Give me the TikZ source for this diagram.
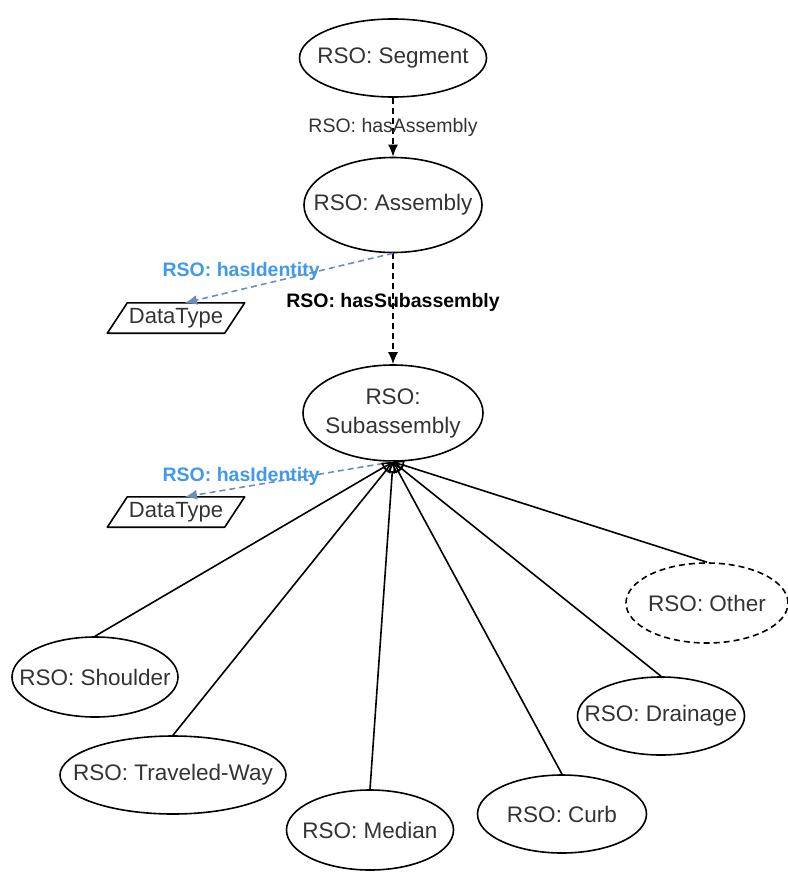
\documentclass[tikz,border=0pt]{standalone}
\usepackage{fontspec}
\setmainfont{Liberation Sans}
\usetikzlibrary{positioning,shapes.geometric,arrows.meta}
\definecolor{idblue}{RGB}{66,153,235}
\definecolor{idline}{RGB}{108,142,191}
\definecolor{nodetext}{RGB}{51,51,51}
\tikzset{>={Latex[length=12pt,width=10pt]}}
\tikzset{
  rso/.style={draw, ellipse, line width=1.6pt, inner sep=0pt, minimum height=78pt, text=nodetext, font=\fontsize{22.5}{29}\selectfont},
  dtype/.style={rectangle, inner sep=0pt, minimum width=117pt, minimum height=30pt, text=nodetext, font=\fontsize{22}{26}\selectfont},
  dtline/.style={draw, line width=1.6pt, line join=round},
  rel/.style={line width=1.6pt, dash pattern=on 6pt off 4pt, ->},
  idrel/.style={rel, draw=idline, >={Latex[length=12pt,width=10pt,fill=idline]}},
  lbl/.style={text=nodetext, font=\fontsize{19.5}{22}\selectfont},
  idlbl/.style={text=idblue, font=\fontsize{19.5}{22}\selectfont\bfseries},
  gen/.style={line width=1.6pt, -{Triangle[open,length=11pt,width=10pt]}}
}
\newcommand{\ntext}[1]{\makebox[0pt]{#1}}

\begin{document}
\begin{tikzpicture}[x=1pt, y=-1pt]
      \useasboundingbox (0,0) rectangle (787,872);
      \node[rso, minimum width=187pt] (seg) at (393,58) {\ntext{RSO: Segment}};
      \node[rso, minimum width=178pt, minimum height=95pt, below of=seg, node distance=147pt] (asm) {\ntext{RSO: Assembly}};
      \node[rso, minimum width=180pt, minimum height=96pt, below of=asm, node distance=208pt] (sub) {\ntext{\begin{tabular}{@{}c@{}}RSO:\\Subassembly\end{tabular}}};
      \node[dtype] (dt1) at (176,318) {\ntext{DataType}};
      \node[dtype, below of=dt1, node distance=194pt] (dt2) {\ntext{DataType}};
      % parallelogram outlines
      \draw[dtline] ([xshift=10pt]dt1.north west) -- ([xshift=10pt]dt1.north east) -- ([xshift=-10pt]dt1.south east) -- ([xshift=-10pt]dt1.south west) -- cycle;
      \draw[dtline] ([xshift=10pt]dt2.north west) -- ([xshift=10pt]dt2.north east) -- ([xshift=-10pt]dt2.south east) -- ([xshift=-10pt]dt2.south west) -- cycle;
      \draw[rel] (seg) -- node[lbl]{RSO: hasAssembly} (asm);
      \draw[rel] (asm) -- node[lbl, pos=0.44, font=\fontsize{19.5}{22}\selectfont\bfseries, text=black]{RSO: hasSubassembly} (sub);
      \draw[idrel] (asm.south) -- node[idlbl, pos=0.73, yshift=18pt]{RSO: hasIdentity} ([xshift=9pt]dt1.north);
      \draw[idrel] (sub.south) -- node[idlbl, pos=0.73, yshift=11pt]{RSO: hasIdentity} ([xshift=9pt]dt2.north);
      % kinds of subassembly
      \node[rso, minimum width=166pt, minimum height=80pt] (sh) at (95,677) {\ntext{RSO: Shoulder}};
      \node[rso, minimum width=226pt] (tw) at (173,775) {\ntext{RSO: Traveled-Way}};
      \node[rso, minimum width=167pt, minimum height=80pt] (med) at (370,830) {\ntext{RSO: Median}};
      \node[rso, minimum width=169pt] (curb) at (562,814) {\ntext{RSO: Curb}};
      \node[rso, minimum width=167pt] (drain) at (661,716) {\ntext{RSO: Drainage}};
      \node[rso, minimum width=162pt, minimum height=80pt, dash pattern=on 6pt off 4pt] (oth) at (707,603) {\ntext{RSO: Other}};
      \draw[gen] (sh.north) -- (sub.south);
      \draw[gen] (tw.north) -- (sub.south);
      \draw[gen] (med.north) -- (sub.south);
      \draw[gen] (curb.north) -- (sub.south);
      \draw[gen] (drain.north) -- (sub.south);
      \draw[gen] (oth.north) -- (sub.south);
\end{tikzpicture}
\end{document}
